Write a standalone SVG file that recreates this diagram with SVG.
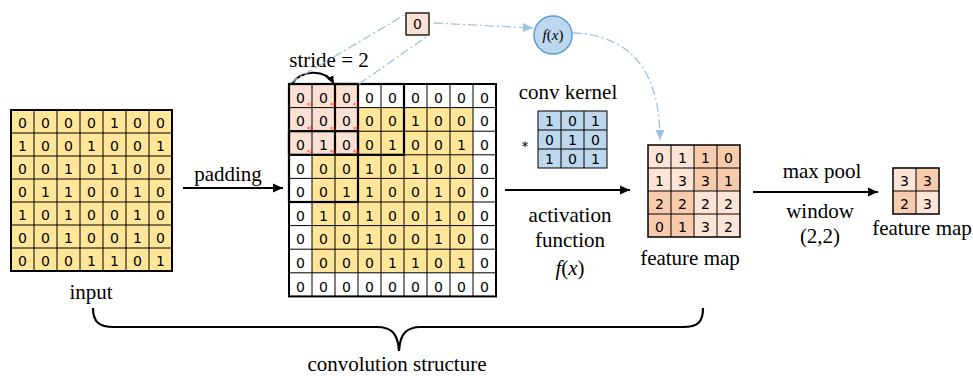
<svg xmlns="http://www.w3.org/2000/svg" width="973" height="376" viewBox="0 0 973 376">
<style>
.lbl{font-family:"Liberation Serif","Times New Roman",serif;font-size:21px;fill:#000;text-anchor:middle}
.d{font-family:"DejaVu Sans",sans-serif;font-size:14px;fill:#000;text-anchor:middle}
.sub{font-family:"Liberation Sans",sans-serif;font-size:5px;fill:#ff0000}
.grid{fill:none;stroke:#000;stroke-width:1}
.frame{fill:none;stroke:#000;stroke-width:2}
.win{fill:none;stroke:#000;stroke-width:2.2}
.arrow{fill:none;stroke:#000;stroke-width:2;marker-end:url(#ah)}
.dash{fill:none;stroke:#9dc3e6;stroke-width:1.3;stroke-dasharray:9 3 2 3}
.yel{fill:#ffe699}
.pink{fill:#fbe0d4}
.lt{fill:#fce4d6}
.dk{fill:#f8cbad}
.blue{fill:#bdd7ee}
</style>
<defs>
<marker id="ah" viewBox="0 0 10 10" refX="10" refY="5" markerWidth="10" markerHeight="10" markerUnits="userSpaceOnUse" orient="auto"><path d="M0,0.5 L10,5 L0,9.5 z" fill="#000"/></marker>
<marker id="ahs" viewBox="0 0 10 10" refX="10" refY="5" markerWidth="8" markerHeight="8" markerUnits="userSpaceOnUse" orient="auto"><path d="M0,0.5 L10,5 L0,9.5 z" fill="#000"/></marker>
<marker id="ahb" viewBox="0 0 10 10" refX="10" refY="5" markerWidth="10" markerHeight="10" markerUnits="userSpaceOnUse" orient="auto"><path d="M0,0.5 L10,5 L0,9.5 z" fill="#9dc3e6"/></marker>
</defs>

<g id="input">
<rect class="yel" x="11" y="110" width="161" height="161"/>
<path class="grid" d="M34,110V271M57,110V271M80,110V271M103,110V271M126,110V271M149,110V271M11,133H172M11,156H172M11,179H172M11,202H172M11,225H172M11,248H172"/>
<rect class="frame" x="11" y="110" width="161" height="161"/>
<g class="d">
<text x="22.5" y="128.3">0</text><text x="45.5" y="128.3">0</text><text x="68.5" y="128.3">0</text><text x="91.5" y="128.3">0</text><text x="114.5" y="128.3">1</text><text x="137.5" y="128.3">0</text><text x="160.5" y="128.3">0</text>
<text x="22.5" y="151.3">1</text><text x="45.5" y="151.3">0</text><text x="68.5" y="151.3">0</text><text x="91.5" y="151.3">1</text><text x="114.5" y="151.3">0</text><text x="137.5" y="151.3">0</text><text x="160.5" y="151.3">1</text>
<text x="22.5" y="174.3">0</text><text x="45.5" y="174.3">0</text><text x="68.5" y="174.3">1</text><text x="91.5" y="174.3">0</text><text x="114.5" y="174.3">1</text><text x="137.5" y="174.3">0</text><text x="160.5" y="174.3">0</text>
<text x="22.5" y="197.3">0</text><text x="45.5" y="197.3">1</text><text x="68.5" y="197.3">1</text><text x="91.5" y="197.3">0</text><text x="114.5" y="197.3">0</text><text x="137.5" y="197.3">1</text><text x="160.5" y="197.3">0</text>
<text x="22.5" y="220.3">1</text><text x="45.5" y="220.3">0</text><text x="68.5" y="220.3">1</text><text x="91.5" y="220.3">0</text><text x="114.5" y="220.3">0</text><text x="137.5" y="220.3">1</text><text x="160.5" y="220.3">0</text>
<text x="22.5" y="243.3">0</text><text x="45.5" y="243.3">0</text><text x="68.5" y="243.3">1</text><text x="91.5" y="243.3">0</text><text x="114.5" y="243.3">0</text><text x="137.5" y="243.3">1</text><text x="160.5" y="243.3">0</text>
<text x="22.5" y="266.3">0</text><text x="45.5" y="266.3">0</text><text x="68.5" y="266.3">0</text><text x="91.5" y="266.3">1</text><text x="114.5" y="266.3">1</text><text x="137.5" y="266.3">0</text><text x="160.5" y="266.3">1</text>
</g>
<text class="lbl" x="91" y="299">input</text>
</g>

<g id="padded">
<rect fill="#fff" x="289" y="84" width="207" height="212.4"/>
<rect class="yel" x="312" y="107.6" width="161" height="165.2"/>
<rect class="pink" x="289" y="84" width="69" height="70.8"/>
<path class="grid" d="M312,84V296.4M335,84V296.4M358,84V296.4M381,84V296.4M404,84V296.4M427,84V296.4M450,84V296.4M473,84V296.4M289,107.6H496M289,131.2H496M289,154.8H496M289,178.4H496M289,202H496M289,225.6H496M289,249.2H496M289,272.8H496"/>
<rect class="frame" x="289" y="84" width="207" height="212.4"/>
<rect class="win" x="289" y="84" width="69" height="70.8"/>
<rect class="win" x="335" y="84" width="69" height="70.8"/>
<rect class="win" x="289" y="131.2" width="69" height="70.8"/>
<g class="d">
<text x="300.5" y="102.8">0</text><text x="323.5" y="102.8">0</text><text x="346.5" y="102.8">0</text><text x="369.5" y="102.8">0</text><text x="392.5" y="102.8">0</text><text x="415.5" y="102.8">0</text><text x="438.5" y="102.8">0</text><text x="461.5" y="102.8">0</text><text x="484.5" y="102.8">0</text>
<text x="300.5" y="126.4">0</text><text x="323.5" y="126.4">0</text><text x="346.5" y="126.4">0</text><text x="369.5" y="126.4">0</text><text x="392.5" y="126.4">0</text><text x="415.5" y="126.4">1</text><text x="438.5" y="126.4">0</text><text x="461.5" y="126.4">0</text><text x="484.5" y="126.4">0</text>
<text x="300.5" y="150">0</text><text x="323.5" y="150">1</text><text x="346.5" y="150">0</text><text x="369.5" y="150">0</text><text x="392.5" y="150">1</text><text x="415.5" y="150">0</text><text x="438.5" y="150">0</text><text x="461.5" y="150">1</text><text x="484.5" y="150">0</text>
<text x="300.5" y="173.6">0</text><text x="323.5" y="173.6">0</text><text x="346.5" y="173.6">0</text><text x="369.5" y="173.6">1</text><text x="392.5" y="173.6">0</text><text x="415.5" y="173.6">1</text><text x="438.5" y="173.6">0</text><text x="461.5" y="173.6">0</text><text x="484.5" y="173.6">0</text>
<text x="300.5" y="197.2">0</text><text x="323.5" y="197.2">0</text><text x="346.5" y="197.2">1</text><text x="369.5" y="197.2">1</text><text x="392.5" y="197.2">0</text><text x="415.5" y="197.2">0</text><text x="438.5" y="197.2">1</text><text x="461.5" y="197.2">0</text><text x="484.5" y="197.2">0</text>
<text x="300.5" y="220.8">0</text><text x="323.5" y="220.8">1</text><text x="346.5" y="220.8">0</text><text x="369.5" y="220.8">1</text><text x="392.5" y="220.8">0</text><text x="415.5" y="220.8">0</text><text x="438.5" y="220.8">1</text><text x="461.5" y="220.8">0</text><text x="484.5" y="220.8">0</text>
<text x="300.5" y="244.4">0</text><text x="323.5" y="244.4">0</text><text x="346.5" y="244.4">0</text><text x="369.5" y="244.4">1</text><text x="392.5" y="244.4">0</text><text x="415.5" y="244.4">0</text><text x="438.5" y="244.4">1</text><text x="461.5" y="244.4">0</text><text x="484.5" y="244.4">0</text>
<text x="300.5" y="268">0</text><text x="323.5" y="268">0</text><text x="346.5" y="268">0</text><text x="369.5" y="268">0</text><text x="392.5" y="268">1</text><text x="415.5" y="268">1</text><text x="438.5" y="268">0</text><text x="461.5" y="268">1</text><text x="484.5" y="268">0</text>
<text x="300.5" y="291.6">0</text><text x="323.5" y="291.6">0</text><text x="346.5" y="291.6">0</text><text x="369.5" y="291.6">0</text><text x="392.5" y="291.6">0</text><text x="415.5" y="291.6">0</text><text x="438.5" y="291.6">0</text><text x="461.5" y="291.6">0</text><text x="484.5" y="291.6">0</text>
</g>
<g class="sub">
<text x="307" y="106">×1</text><text x="330" y="106">×0</text><text x="353" y="106">×1</text>
<text x="307" y="129.6">×0</text><text x="330" y="129.6">×1</text><text x="353" y="129.6">×0</text>
<text x="307" y="153.2">×1</text><text x="330" y="153.2">×0</text><text x="353" y="153.2">×1</text>
</g>
</g>

<g id="kernel">
<rect class="blue" x="538" y="111" width="69" height="57"/>
<path class="grid" d="M561,111V168M584,111V168M538,130H607M538,149H607"/>
<rect class="grid" x="538" y="111" width="69" height="57"/>
<g class="d">
<text x="549.5" y="126">1</text><text x="572.5" y="126">0</text><text x="595.5" y="126">1</text>
<text x="549.5" y="145">0</text><text x="572.5" y="145">1</text><text x="595.5" y="145">0</text>
<text x="549.5" y="164">1</text><text x="572.5" y="164">0</text><text x="595.5" y="164">1</text>
</g>
<text class="d" x="525" y="151">*</text>
<text class="lbl" x="568" y="99">conv kernel</text>
</g>

<g id="featuremap">
<rect class="lt" x="648" y="145" width="46" height="46"/>
<rect class="dk" x="694" y="145" width="46" height="46"/>
<rect class="dk" x="648" y="191" width="46" height="46"/>
<rect class="lt" x="694" y="191" width="46" height="46"/>
<path class="grid" d="M671,145V237M694,145V237M717,145V237M648,168H740M648,191H740M648,214H740"/>
<rect class="frame" x="648" y="145" width="92" height="92" style="stroke-width:1.5"/>
<g class="d">
<text x="659.5" y="163.3">0</text><text x="682.5" y="163.3">1</text><text x="705.5" y="163.3">1</text><text x="728.5" y="163.3">0</text>
<text x="659.5" y="186.3">1</text><text x="682.5" y="186.3">3</text><text x="705.5" y="186.3">3</text><text x="728.5" y="186.3">1</text>
<text x="659.5" y="209.3">2</text><text x="682.5" y="209.3">2</text><text x="705.5" y="209.3">2</text><text x="728.5" y="209.3">2</text>
<text x="659.5" y="232.3">0</text><text x="682.5" y="232.3">1</text><text x="705.5" y="232.3">3</text><text x="728.5" y="232.3">2</text>
</g>
<text class="lbl" x="690" y="265">feature map</text>
</g>

<g id="pooled">
<rect class="lt" x="893" y="168" width="23" height="23"/>
<rect class="dk" x="916" y="168" width="23" height="23"/>
<rect class="dk" x="893" y="191" width="23" height="23"/>
<rect class="lt" x="916" y="191" width="23" height="23"/>
<path class="grid" d="M916,168V214M893,191H939"/>
<rect class="frame" x="893" y="168" width="46" height="46" style="stroke-width:1.5"/>
<g class="d">
<text x="904.5" y="186.3">3</text><text x="927.5" y="186.3">3</text>
<text x="904.5" y="209.3">2</text><text x="927.5" y="209.3">3</text>
</g>
<text class="lbl" x="922" y="235">feature map</text>
</g>

<g id="value">
<rect class="pink" x="406" y="13" width="23" height="22" stroke="#000" stroke-width="1.3"/>
<text class="d" x="417.5" y="29">0</text>
</g>

<g id="activation">
<circle cx="553" cy="35" r="19" fill="#bdd7ee" stroke="#5b9bd5" stroke-width="1.5"/>
<text x="553" y="40" style="font-family:'Liberation Serif',serif;font-size:15px;font-style:italic;text-anchor:middle">f<tspan font-style="normal">(</tspan>x<tspan font-style="normal">)</tspan></text>
</g>

<g id="labels">
<text class="lbl" x="329" y="67">stride = 2</text>
<text class="lbl" x="228" y="181">padding</text>
<text class="lbl" x="570" y="222">activation</text>
<text class="lbl" x="570" y="247">function</text>
<text x="570" y="275" style="font-family:'Liberation Serif',serif;font-size:21px;font-style:italic;text-anchor:middle">f<tspan font-style="normal">(</tspan>x<tspan font-style="normal">)</tspan></text>
<text class="lbl" x="822" y="178">max pool</text>
<text class="lbl" x="820" y="218">window</text>
<text class="lbl" x="820" y="243">(2,2)</text>
<text class="lbl" x="397" y="371">convolution structure</text>
</g>

<g id="connectors">
<path class="arrow" d="M183,188H283"/>
<path class="arrow" d="M505,190H630"/>
<path class="arrow" d="M753,192H878"/>
<path d="M292,84C300,70 325,68 334,84" fill="none" stroke="#000" stroke-width="1.8" marker-end="url(#ahs)"/>
<path class="dash" d="M290,83L406,14"/>
<path class="dash" d="M359,84L429,35"/>
<path class="dash" d="M434,23L533,28" marker-end="url(#ahb)"/>
<path class="dash" d="M573,33C630,35 660,70 660,140" marker-end="url(#ahb)"/>
<path d="M93,308C93,322 99,327 114,327H377C391,327 398,333 399,351C400,333 407,327 421,327H683C698,327 703,322 703,308" fill="none" stroke="#000" stroke-width="2.2"/>
</g>
</svg>
